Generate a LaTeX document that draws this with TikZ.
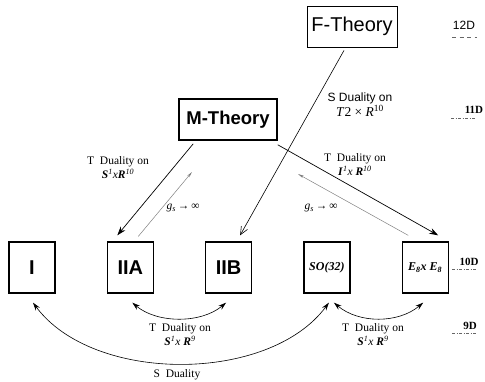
\documentclass[tikz,border=0pt]{standalone}
\usepackage{fontspec}
\setmainfont{Liberation Serif}
\setsansfont{Liberation Sans}
\usetikzlibrary{arrows.meta,positioning}

\begin{document}
\begin{tikzpicture}[x=1pt, y=-1pt,
    node distance=51pt,
    theory/.style={draw, minimum height=41pt, inner sep=2pt, font=\sffamily\fontsize{20}{20}\selectfont},
    strbox/.style={draw, line width=1.3pt, minimum width=46pt, minimum height=51pt, inner sep=1pt, font=\sffamily\bfseries\fontsize{20}{20}\selectfont},
    dual/.style={align=center, font=\fontsize{11.5}{14}\selectfont},
    dimlab/.style={inner sep=0pt, font=\bfseries\fontsize{11}{11}\selectfont},
    dimln/.style={gray!80!black, line width=0.5pt, dash pattern=on 3pt off 1.5pt on 1pt off 1.5pt},
    main arr/.style={-{Stealth[length=9pt,width=6pt]}, line width=0.7pt},
    gs arr/.style={-{Stealth[length=6pt,width=2.5pt]}, gray, line width=0.5pt},
    both arr/.style={{Stealth[length=8pt,width=5pt]}-{Stealth[length=8pt,width=5pt]}, line width=0.6pt}
  ]
  \useasboundingbox (0,0) rectangle (485,381);

  % theories
  \node[theory, minimum width=90pt, line width=0.8pt] (f) at (352,26.5) {F-Theory};
  \node[theory, minimum width=98pt, line width=1.6pt, font=\sffamily\bfseries\fontsize{18.5}{18.5}\selectfont] (m) at (228,119.5) {M-Theory};

  \node[strbox] (i) at (32,267.5) {I};
  \node[strbox, right=of i] (iia) {IIA};
  \node[strbox, right=of iia] (iib) {IIB};
  \node[strbox, right=of iib, font=\bfseries\itshape\fontsize{12}{12}\selectfont] (so) {SO(32)};
  \node[strbox, right=of so, font=\bfseries\itshape\fontsize{12}{12}\selectfont] (e8) {E\textsubscript{8}x E\textsubscript{8}};

  % compactifications
  \coordinate (gsl) at (192,172);
  \coordinate (gsr) at (298,174);
  \draw[main arr] ([xshift=15pt,yshift=-3pt]m.south west) -- ([xshift=-13pt,yshift=6pt]iia.north);
  \draw[gs arr] ([xshift=8pt,yshift=5pt]iia.north) -- (gsl);
  \draw[main arr] ([yshift=-4pt]m.south east) -- ([xshift=13pt,yshift=6pt]e8.north);
  \draw[gs arr] ([xshift=-17pt,yshift=6pt]e8.north) -- (gsr);
  \draw[-{Straight Barb[length=8pt,width=7pt]}, line width=0.6pt] ([xshift=-8pt,yshift=-3pt]f.south) -- ([xshift=11.5pt,yshift=6pt]iib.north);

  \node[dual] (tl) at (118,168) {T~~Duality on\\\textbf{\textit{S}}\textsuperscript{\textit{1}}\textit{x}\textbf{\textit{R}}\textsuperscript{\textit{10}}};
  \node[dual] (tr) at (355,165) {T~~Duality on\\\textbf{\textit{I}}\textsuperscript{\textit{1}}\textit{x} \textbf{\textit{R}}\textsuperscript{\textit{10}}};
  \node[font=\fontsize{11.5}{12}\selectfont] (gl) at (183,208) {\textit{g}\textsubscript{\textit{s}}\,→\,∞};
  \node[font=\fontsize{11.5}{12}\selectfont] (gr) at (321,208) {\textit{g}\textsubscript{\textit{s}}\,→\,∞};
  \node[dual, font=\fontsize{12}{14}\selectfont] (sd) at (360,105) {\textsf{S Duality on}\\\fontsize{13.5}{14}\selectfont\textit{T}2 × \textit{R}\textsuperscript{10}};

  % dualities in 10D
  \draw[both arr] ([xshift=2pt,yshift=-9pt]iia.south) .. controls +(25,21) and +(-25,21) .. ([xshift=-2.5pt,yshift=-9pt]iib.south);
  \draw[both arr] ([xshift=7pt,yshift=-9pt]so.south) .. controls +(25,21) and +(-25,21) .. ([xshift=-2pt,yshift=-9pt]e8.south);
  \draw[both arr] ([xshift=1pt,yshift=-9pt]i.south) .. controls +(60,81) and +(-60,81) .. ([xshift=2pt,yshift=-9pt]so.south);

  \node[dual] (tb1) at (180,335) {T~~Duality on\\\textbf{\textit{S}}\textsuperscript{\textit{1}}\textit{x} \textbf{\textit{R}}\textsuperscript{\textit{9}}};
  \node[dual] (tb2) at (373,335) {T~~Duality on\\\textbf{\textit{S}}\textsuperscript{\textit{1}}\textit{x} \textbf{\textit{R}}\textsuperscript{\textit{9}}};
  \node[dual] (sdual) at (177,375) {S~~Duality};

  % dimensions
  \node[inner sep=0pt, font=\sffamily\fontsize{12}{12}\selectfont] (d12) at (464,25) {12D};
  \draw[gray!80!black, line width=0.5pt, dash pattern=on 4pt off 3.5pt] (452,37) -- (477,37);
  \node[dimlab] (d11) at (474,110) {11D};
  \draw[dimln] (451,118) -- (476,118);
  \node[dimlab] (d10) at (469,262) {10D};
  \draw[dimln] (452,269) -- (476,269);
  \node[dimlab] (d9) at (470,326) {9D};
  \draw[dimln] (452,333) -- (476,333);
\end{tikzpicture}
\end{document}
